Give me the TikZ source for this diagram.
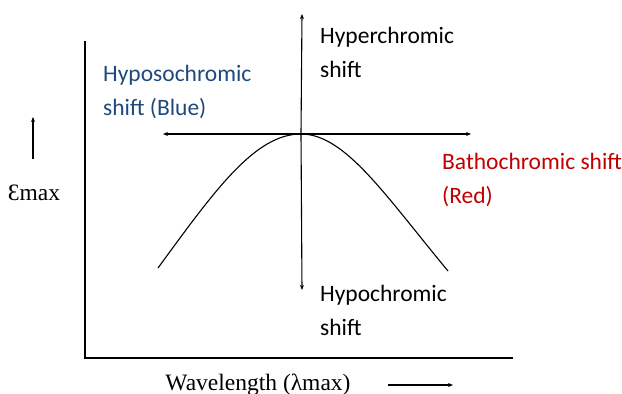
\documentclass[tikz,border=0pt]{standalone}
\usepackage{fontspec}
\setmainfont{Liberation Serif}
\newfontfamily\calibrifont{Carlito}
\usetikzlibrary{arrows.meta}
\definecolor{offblue}{HTML}{1F497D}
\definecolor{offred}{HTML}{C00000}
\begin{document}
\begin{tikzpicture}[x=1pt,y=-1pt,
  ln/.style={line width=1.1pt},
  arr/.style={ln,-{Stealth[length=5pt,width=4pt]}},
  lbl/.style={font=\calibrifont\fontsize{23.5}{33.5}\selectfont,anchor=base west,align=left,inner sep=0pt},
  ser/.style={font=\fontsize{23.5}{26}\selectfont,inner sep=0pt,anchor=base}]
\useasboundingbox (0,0) rectangle (622,394);
% axes
\coordinate (ytop) at (85,41);
\coordinate (origin) at (85,358);
\coordinate (xend) at (513,358);
\draw[ln] (ytop) -- (origin) -- (xend);
% curve
\coordinate (cl) at (158,268);
\coordinate (peak) at (301,134);
\coordinate (cr) at (448,271);
\draw[ln] (cl) .. controls (215,190) and (255,134) .. (peak)
          .. controls (345,134) and (385,195) .. (cr);
% shift arrows
\coordinate (vup) at (302,14);
\coordinate (vdn) at (302,290);
\coordinate (hl) at (163,134);
\coordinate (hr) at (471,134);
\draw[arr] (peak) -- (vup);
\draw[arr] (peak) -- (vdn);
\draw[arr] (peak) -- (hl);
\draw[arr] (peak) -- (hr);
% labels (anchor = baseline of last line)
\node[lbl] (hyper) at (320,77) {Hyperchromic\\shift};
\node[lbl] (hypo) at (320,335) {Hypochromic\\shift};
\node[lbl,text=offblue] (hypso) at (103,115) {Hyposochromic\\shift (Blue)};
\node[lbl,text=offred] (batho) at (442,203) {Bathochromic shift\\(Red)};
% y axis label
\coordinate (ya1) at (33,159);
\coordinate (ya2) at (33,117);
\draw[arr] (ya1) -- (ya2);
\node[ser] (emax) at (34,200) {Ɛmax};
% x axis label
\node[ser] (wl) at (258,390) {Wavelength (λmax)};
\coordinate (xa1) at (388,385);
\coordinate (xa2) at (453,385);
\draw[arr] (xa1) -- (xa2);
\end{tikzpicture}
\end{document}
